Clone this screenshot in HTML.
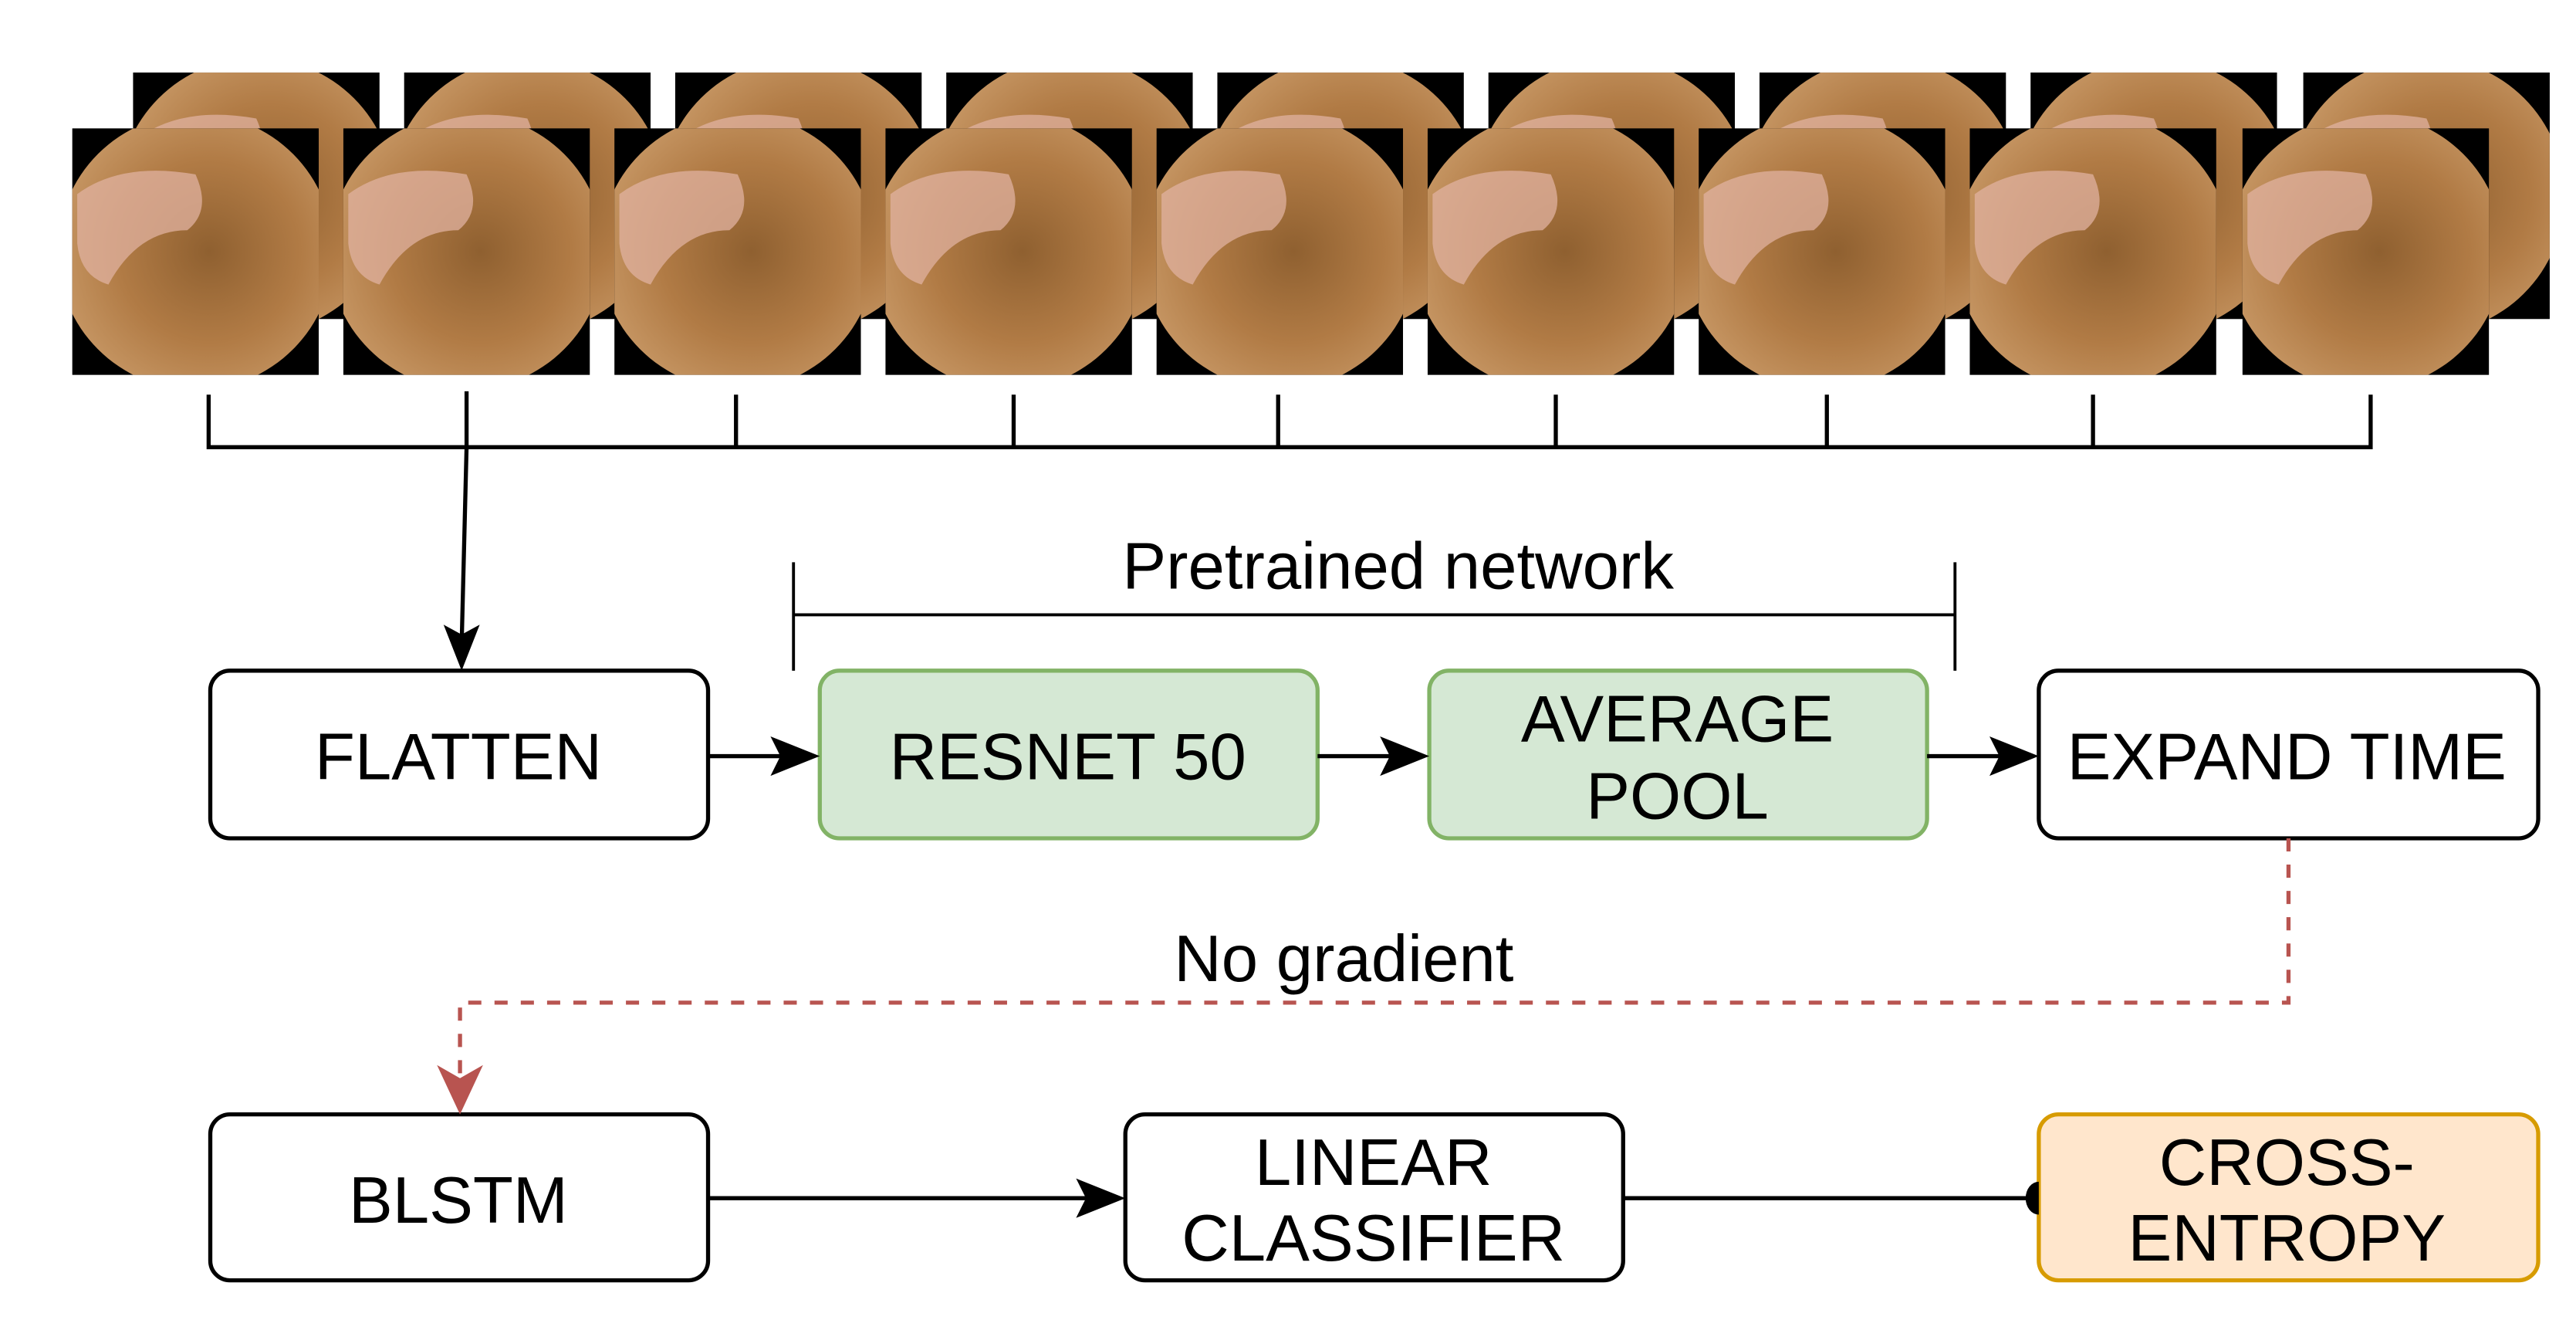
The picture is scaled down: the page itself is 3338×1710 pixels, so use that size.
<!DOCTYPE html>
<html><head><meta charset="utf-8"><style>
html,body{margin:0;padding:0;background:#fff;}
svg{display:block;}
text{font-family:"Liberation Sans",sans-serif;fill:#000;}
</style></head><body>
<svg width="3338" height="1710" viewBox="0 0 1568 803" xmlns="http://www.w3.org/2000/svg">
<defs>
<radialGradient id="g" cx="0.55" cy="0.5" r="0.6">
<stop offset="0" stop-color="#8f6030"/>
<stop offset="0.55" stop-color="#b17b45"/>
<stop offset="1" stop-color="#c99a68"/>
</radialGradient>
<clipPath id="c"><rect x="0" y="0" width="150" height="150"/></clipPath>
<g id="fr">
<rect x="0" y="0" width="150" height="150" fill="#000"/>
<g clip-path="url(#c)">
<circle cx="75" cy="75" r="84" fill="url(#g)"/>
<path d="M3 40 Q30 20 75 28 Q85 50 70 62 Q40 62 22 95 Q5 90 3 70Z" fill="#e0b2a0" opacity="0.75"/>
</g>
</g>
</defs>
<g>
<use href="#fr" x="81" y="44"/><use href="#fr" x="246" y="44"/><use href="#fr" x="411" y="44"/><use href="#fr" x="576" y="44"/><use href="#fr" x="741" y="44"/><use href="#fr" x="906" y="44"/><use href="#fr" x="1071" y="44"/><use href="#fr" x="1236" y="44"/><use href="#fr" x="1402" y="44"/>
</g>
<g>
<use href="#fr" x="44" y="78"/><use href="#fr" x="209" y="78"/><use href="#fr" x="374" y="78"/><use href="#fr" x="539" y="78"/><use href="#fr" x="704" y="78"/><use href="#fr" x="869" y="78"/><use href="#fr" x="1034" y="78"/><use href="#fr" x="1199" y="78"/><use href="#fr" x="1365" y="78"/>
</g>
<g stroke="#000" stroke-width="2.5" fill="none">
<path d="M127 240 V272 H1443 V240"/>
<path d="M284 238 V272 M448 240 V272 M617 240 V272 M778 240 V272 M947 240 V272 M1112 240 V272 M1274 240 V272"/>
</g>
<path d="M284 272 L281 392" stroke="#000" stroke-width="2.5"/>
<path d="M270 380 L281 408 L292 380 L281 386 Z" fill="#000"/>
<path d="M483 342 V408 M483 374 H1190 M1190 342 V408" stroke="#000" stroke-width="1.8" fill="none"/>
<text x="851" y="358" font-size="40" text-anchor="middle">Pretrained network</text>
<g stroke-width="2.5">
<rect x="128" y="408" width="303" height="102" rx="12" fill="#fff" stroke="#000"/>
<rect x="499" y="408" width="303" height="102" rx="12" fill="#d5e8d4" stroke="#82b366"/>
<rect x="870" y="408" width="303" height="102" rx="12" fill="#d5e8d4" stroke="#82b366"/>
<rect x="1241" y="408" width="304" height="102" rx="12" fill="#fff" stroke="#000"/>
<rect x="128" y="678" width="303" height="101" rx="12" fill="#fff" stroke="#000"/>
<rect x="685" y="678" width="303" height="101" rx="12" fill="#fff" stroke="#000"/>
<rect x="1241" y="678" width="304" height="101" rx="12" fill="#ffe6cc" stroke="#d79b00"/>
</g>
<g font-size="40" text-anchor="middle">
<text x="279" y="474">FLATTEN</text>
<text x="650" y="474">RESNET 50</text>
<text x="1021" y="451">AVERAGE</text>
<text x="1021" y="498">POOL</text>
<text x="1392" y="474">EXPAND TIME</text>
<text x="279" y="744">BLSTM</text>
<text x="836" y="721">LINEAR</text>
<text x="836" y="767">CLASSIFIER</text>
<text x="1392" y="721">CROSS-</text>
<text x="1392" y="767">ENTROPY</text>
</g>
<g stroke="#000" stroke-width="2.5">
<line x1="431" y1="460" x2="485" y2="460"/>
<line x1="802" y1="460" x2="856" y2="460"/>
<line x1="1173" y1="460" x2="1227" y2="460"/>
<line x1="431" y1="729" x2="670" y2="729"/>
<line x1="988" y1="729" x2="1236" y2="729"/>
</g>
<g fill="#000">
<path d="M469 448 L499 460 L469 472 L475 460 Z"/>
<path d="M840 448 L870 460 L840 472 L846 460 Z"/>
<path d="M1211 448 L1241 460 L1211 472 L1217 460 Z"/>
<path d="M655 717 L685 729 L655 741 L661 729 Z"/>
<path d="M1241 719 A8 10 0 0 0 1241 739 Z"/>
</g>
<path d="M1393 510 V610 H280 V662" stroke="#b85450" stroke-width="2.5" fill="none" stroke-dasharray="8 8"/>
<path d="M266 648 L280 678 L294 648 L280 656 Z" fill="#b85450"/>
<text x="818" y="597" font-size="40" text-anchor="middle">No gradient</text>
</svg>
</body></html>
